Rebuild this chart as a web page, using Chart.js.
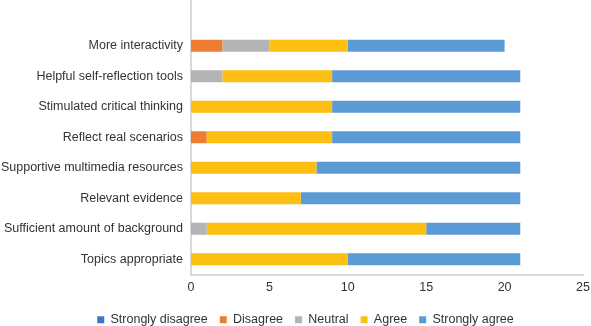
<!DOCTYPE html>
<html>
<head>
<meta charset="utf-8">
<script src="https://cdn.jsdelivr.net/npm/chart.js@4.4.1/dist/chart.umd.min.js"></script>
<style>
  html, body { margin: 0; padding: 0; background: #fff; }
  #wrap { width: 591px; height: 326px; }
</style>
</head>
<body>
<div id="wrap"><canvas id="chart" width="591" height="326"></canvas></div>
<script>
// categories, top to bottom (first one is the empty slot above the bars)
const categories = [
  "",
  "More interactivity",
  "Helpful self-reflection tools",
  "Stimulated critical thinking",
  "Reflect real scenarios",
  "Supportive multimedia resources",
  "Relevant evidence",
  "Sufficient amount of background",
  "Topics appropriate",
];

const stronglyDisagree = [null, 0, 0, 0, 0, 0, 0, 0, 0];
const disagree = [null, 2, 0, 0, 1, 0, 0, 0, 0];
const neutral = [null, 3, 2, 0, 0, 0, 0, 1, 0];
const agree = [null, 5, 7, 9, 8, 8, 7, 14, 10];
const stronglyAgree = [null, 10, 12, 12, 12, 13, 14, 6, 11];

const xTicks = [0, 5, 10, 15, 20, 25];

const font = { family: "'Liberation Sans', Arial, sans-serif", size: 12.5 };
const textColor = "#333333";
const axisColor = "#d9d9d9";

function series(label, data, color) {
  return {
    label: label,
    data: data,
    backgroundColor: color,
    borderWidth: 0,
    categoryPercentage: 1,
    barPercentage: 0.4,
  };
}

// legend in the original sits a bit right of the canvas centre
const legendShift = {
  id: "legendShift",
  afterLayout(chart) {
    chart.legend.left += 14;
    chart.legend.right += 14;
  },
};

new Chart(document.getElementById("chart").getContext("2d"), {
  type: "bar",
  data: {
    labels: categories,
    datasets: [
      series("Strongly disagree", stronglyDisagree, "#4472c4"),
      series("Disagree", disagree, "#ed7d31"),
      series("Neutral", neutral, "#b4b4b4"),
      series("Agree", agree, "#fcbf12"),
      series("Strongly agree", stronglyAgree, "#5b9bd5"),
    ],
  },
  plugins: [legendShift],
  options: {
    indexAxis: "y",
    responsive: false,
    animation: false,
    layout: { autoPadding: false, padding: { top: 0, right: 8, bottom: -10, left: 0 } },
    plugins: {
      legend: {
        position: "bottom",
        labels: {
          font: font,
          color: textColor,
          boxWidth: 7,
          boxHeight: 7,
          padding: 12,
        },
      },
      tooltip: { enabled: false },
    },
    scales: {
      x: {
        stacked: true,
        min: xTicks[0],
        max: xTicks[xTicks.length - 1],
        afterBuildTicks: (scale) => {
          scale.ticks = xTicks.map((v) => ({ value: v }));
        },
        afterFit: (scale) => {
          scale.paddingLeft = 0;
          scale.paddingRight = 0;
        },
        grid: { display: false, drawTicks: false },
        border: { display: true, color: axisColor, width: 2 },
        ticks: { font: font, color: textColor, padding: 6 },
      },
      y: {
        stacked: true,
        afterFit: (scale) => {
          scale.width = 191;
          scale.paddingTop = 0;
          scale.paddingBottom = 0;
        },
        grid: { display: false, drawTicks: false },
        border: { display: true, color: axisColor, width: 2 },
        ticks: { font: font, color: textColor, padding: 8, autoSkip: false },
      },
    },
  },
});
</script>
</body>
</html>
